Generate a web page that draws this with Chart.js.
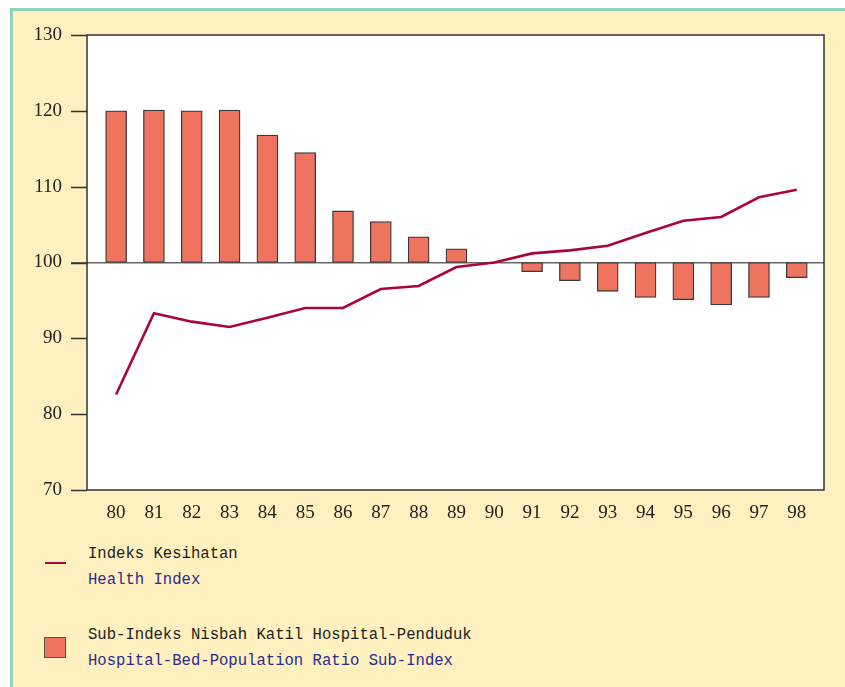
<!DOCTYPE html>
<html>
<head>
<meta charset="utf-8">
<script src="https://cdn.jsdelivr.net/npm/chart.js@4.4.1/dist/chart.umd.min.js"></script>
<style>
  html, body { margin: 0; padding: 0; background: #fff; }
  body { width: 845px; height: 687px; position: relative; overflow: hidden; }
  .panel {
    position: absolute; left: 10px; top: 8px; right: 0; bottom: 0;
    background: #FEF0BF;
    border-top: 3px solid #8FD4B9;
    border-left: 3px solid #8FD4B9;
  }
  #myChart { position: absolute; left: 0; top: 0; }
  .legend { position: absolute; left: 0; top: 0; font-family: "Liberation Mono", monospace; font-size: 15.6px; }
  .legend div { position: absolute; white-space: nowrap; }
  .ms { color: #1d1d1d; }
  .en { color: #2b2b8e; }
  .mk-line { position: absolute; left: 45px; top: 562px; width: 21px; height: 2px; background: #A8063A; }
  .mk-box { position: absolute; left: 44px; top: 637px; width: 20px; height: 19px; background: #EE745F; border: 1px solid #555; }
</style>
</head>
<body>
<div class="panel"></div>
<canvas id="myChart" width="845" height="540"></canvas>
<div class="legend">
  <span class="mk-line"></span>
  <div class="ms" style="left:88px; top:545px;">Indeks Kesihatan</div>
  <div class="en" style="left:88px; top:571px;">Health Index</div>
  <span class="mk-box"></span>
  <div class="ms" style="left:88px; top:626px;">Sub-Indeks Nisbah Katil Hospital-Penduduk</div>
  <div class="en" style="left:88px; top:652px;">Hospital-Bed-Population Ratio Sub-Index</div>
</div>
<script>
'use strict';

/* DATA */

const years = ["80", "81", "82", "83", "84", "85", "86", "87", "88", "89", "90", "91", "92", "93", "94", "95", "96", "97", "98"];
const healthIndex = [82.6, 93.3, 92.2, 91.5, 92.7, 94.0, 94.0, 96.5, 96.9, 99.4, 100.0, 101.2, 101.6, 102.2, 103.9, 105.5, 106.0, 108.6, 109.6];
const bedRatio = [120.0, 120.1, 120.0, 120.1, 116.8, 114.5, 106.8, 105.4, 103.4, 101.8, null, 98.8, 97.6, 96.2, 95.4, 95.1, 94.4, 95.4, 98.0];
const yTicks = [70, 80, 90, 100, 110, 120, 130];
const baseValue = 100;

/* CHART */

// white plot area, frame, and outside tick marks on the y axis
const plotFrame = {
  id: 'plotFrame',
  beforeDraw: function(chart) {
    const a = chart.chartArea;
    const c = chart.ctx;
    c.save();
    c.fillStyle = '#ffffff';
    c.fillRect(a.left, a.top, a.right - a.left, a.bottom - a.top);
    c.restore();
  },
  afterDraw: function(chart) {
    const a = chart.chartArea;
    const c = chart.ctx;
    const y = chart.scales.y;
    c.save();
    c.strokeStyle = '#333333';
    c.lineWidth = 1.5;
    c.strokeRect(a.left, a.top, a.right - a.left, a.bottom - a.top);
    c.beginPath();
    yTicks.forEach(function(v) {
      const py = Math.round(y.getPixelForValue(v)) + 0.5;
      c.moveTo(a.left - 16, py);
      c.lineTo(a.left, py);
    });
    c.lineWidth = 1.3;
    c.stroke();
    c.restore();
  }
};

const serif = { family: '"Liberation Serif", "Times New Roman", serif', size: 19 };

const ctx = document.getElementById('myChart').getContext('2d');
const chart = new Chart(ctx, {
  type: 'bar',
  data: {
    datasets: [{
      type: 'line',
      label: 'Health Index',
      data: healthIndex.map((v, i) => ({ x: i, y: v })),
      borderColor: '#A8063A',
      borderWidth: 2.6,
      pointRadius: 0,
      tension: 0,
      order: 0
    },
    {
      label: 'Hospital-Bed-Population Ratio Sub-Index',
      data: bedRatio.map((v, i) => ({ x: i, y: v === null ? null : [baseValue, v] })),
      backgroundColor: '#EE745F',
      borderColor: '#3a3a3a',
      borderWidth: 1.3,
      borderSkipped: false,
      barThickness: 21,
      order: 1
    }]
  },
  options: {
    responsive: false,
    animation: false,
    layout: { padding: { top: 35, left: 27, right: 21, bottom: 0 } },
    plugins: { legend: { display: false }, tooltip: { enabled: false } },
    scales: {
      x: {
        type: 'linear',
        offset: false,
        min: -0.77,
        max: 18.72,
        afterBuildTicks: function(scale) {
          scale.ticks = years.map((y, i) => ({ value: i }));
        },
        afterFit: function(scale) { scale.height = 50; },
        grid: { display: false, offset: false },
        border: { display: false },
        ticks: {
          autoSkip: false,
          maxRotation: 0,
          padding: 4,
          color: '#222',
          font: serif,
          callback: function(v) { return years[v]; }
        }
      },
      y: {
        min: 70,
        max: 130,
        afterBuildTicks: function(scale) {
          scale.ticks = yTicks.map(v => ({ value: v }));
        },
        afterFit: function(scale) { scale.width = 60; },
        border: { display: false },
        grid: {
          color: function(c) { return c.tick && c.tick.value === baseValue ? '#666666' : 'rgba(0,0,0,0)'; },
          lineWidth: 1.5,
          drawTicks: true,
          tickLength: 16
        },
        ticks: {
          padding: 9,
          color: '#222',
          font: serif
        }
      }
    }
  },
  plugins: [plotFrame]
});
</script>
</body>
</html>
